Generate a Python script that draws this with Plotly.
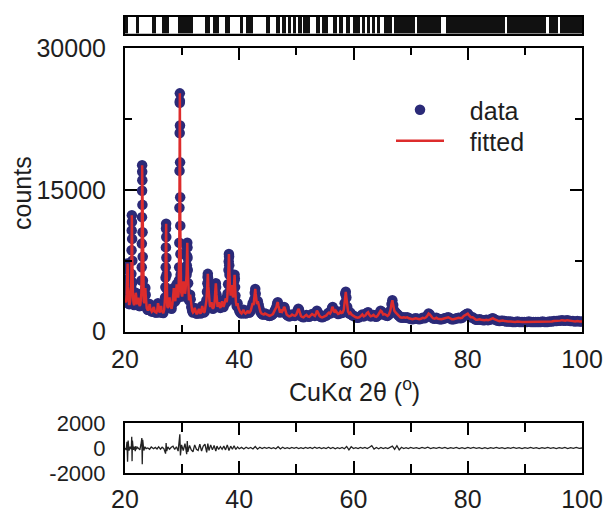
import plotly.graph_objects as go

# ---------------- observed pattern (2theta, counts) ----------------
two_theta = [
    20.00, 20.10, 20.20, 20.30, 20.38, 20.42, 20.45, 20.48, 20.52, 20.60, 20.70, 20.80, 20.90, 21.00,
    21.08, 21.12, 21.15, 21.18, 21.20, 21.22, 21.25, 21.28, 21.32, 21.40, 21.50,
    21.60, 21.70, 21.80, 21.88, 21.95, 22.05, 22.15, 22.25, 22.32, 22.40, 22.50, 22.60, 22.70, 22.80,
    22.86, 22.90, 22.93, 22.95, 22.97, 22.99, 23.00, 23.01, 23.03, 23.05, 23.07, 23.10, 23.14, 23.20, 23.28,
    23.40, 23.50, 23.56, 23.62, 23.70, 23.80, 23.95, 24.10, 24.25, 24.32,
    24.40, 24.55, 24.70, 24.85, 25.00, 25.08, 25.20, 25.35, 25.50, 25.65,
    25.78, 25.85, 25.95, 26.10, 26.25, 26.32, 26.40, 26.55, 26.70, 26.85,
    26.95, 27.02, 27.07, 27.10, 27.13, 27.16, 27.18, 27.20, 27.22, 27.24, 27.27, 27.30, 27.34, 27.40, 27.50,
    27.60, 27.70, 27.80, 27.90, 28.00, 28.15, 28.30, 28.45, 28.55, 28.65, 28.80, 28.95, 29.05, 29.12, 29.20, 29.30, 29.38,
    29.44, 29.48, 29.51, 29.53, 29.55, 29.57, 29.585, 29.60, 29.61, 29.625, 29.64, 29.66, 29.68, 29.70, 29.73, 29.77, 29.82,
    29.90, 30.00, 30.10, 30.18, 30.25, 30.32, 30.40, 30.50, 30.60, 30.70, 30.78,
    30.82, 30.85, 30.88, 30.90, 30.92, 30.95, 30.99, 31.05, 31.12, 31.20,
    31.30, 31.40, 31.50, 31.60, 31.75, 31.90, 32.05, 32.20, 32.35, 32.50, 32.65, 32.80, 32.95, 33.10, 33.25, 33.40, 33.52, 33.65, 33.80, 33.95, 34.10, 34.25,
    34.35, 34.42, 34.47, 34.50, 34.53, 34.58, 34.65, 34.75, 34.85, 34.95, 35.05, 35.15, 35.25, 35.40, 35.55, 35.70,
    35.80, 35.85, 35.90, 35.95, 36.02, 36.10, 36.20, 36.35, 36.45, 36.55, 36.70, 36.85, 37.00, 37.10, 37.25, 37.40, 37.55, 37.65, 37.75, 37.85, 37.95, 38.05, 38.12,
    38.16, 38.19, 38.22, 38.25, 38.29, 38.35, 38.42, 38.50, 38.60, 38.70, 38.80, 38.90, 39.00, 39.08, 39.14, 39.18, 39.22, 39.27, 39.33, 39.42, 39.55, 39.70, 39.85, 40.00,
    40.20, 40.40, 40.60, 40.75, 40.90, 41.10, 41.30, 41.50, 41.65, 41.80,
    42.00, 42.20, 42.35, 42.50, 42.62, 42.72, 42.80, 42.88, 42.98, 43.10,
    43.25, 43.40, 43.55, 43.70, 43.90, 44.10, 44.30, 44.50, 44.70, 44.90,
    45.10, 45.30, 45.50, 45.70, 45.90, 46.10, 46.30, 46.50, 46.65, 46.75,
    46.85, 47.00, 47.15, 47.30, 47.50, 47.70, 47.85, 47.95, 48.10, 48.30,
    48.50, 48.75, 49.00, 49.25, 49.50, 49.75, 50.00, 50.20, 50.35, 50.45,
    50.60, 50.80, 51.00, 51.25, 51.50, 51.75, 52.00, 52.25, 52.50, 52.75,
    53.00, 53.25, 53.45, 53.60, 53.80, 54.00, 54.25, 54.50, 54.75, 55.00,
    55.25, 55.50, 55.70, 55.90, 56.10, 56.25, 56.35, 56.50, 56.70, 56.90,
    57.10, 57.30, 57.50, 57.70, 57.90, 58.10, 58.30, 58.45, 58.55, 58.65,
    58.75, 58.90, 59.05, 59.25, 59.45, 59.65, 59.85,
    60.10, 60.40, 60.70, 61.00, 61.30, 61.55, 61.80, 62.10, 62.35, 62.55,
    62.75, 63.00, 63.25, 63.50, 63.75, 64.00, 64.25, 64.50, 64.75, 64.95,
    65.20, 65.45, 65.70, 65.95, 66.20, 66.45, 66.65, 66.80, 66.95, 67.15,
    67.40, 67.65, 67.90, 68.20, 68.50, 68.80, 69.10, 69.40, 69.70, 70.00,
    70.30, 70.60, 70.90, 71.20, 71.50, 71.80, 72.10, 72.40, 72.70, 72.95,
    73.15, 73.35, 73.60, 73.90, 74.20, 74.50, 74.80, 75.10, 75.40, 75.70,
    76.00, 76.30, 76.60, 76.90, 77.20, 77.50, 77.80, 78.10, 78.40, 78.70,
    79.00, 79.30, 79.55, 79.80, 80.00, 80.25, 80.55, 80.85, 81.15, 81.45,
    81.75, 82.05, 82.35, 82.65, 82.95, 83.25, 83.55, 83.85, 84.15, 84.40,
    84.65, 84.95, 85.25, 85.55, 85.85, 86.15, 86.45, 86.75, 87.10, 87.50,
    87.90, 88.30, 88.70, 89.10, 89.50, 89.90, 90.30, 90.70, 91.10, 91.50,
    91.90, 92.30, 92.70, 93.10, 93.50, 93.90, 94.30, 94.70, 95.10, 95.50,
    95.90, 96.20, 96.50, 96.80, 97.10, 97.40, 97.70, 98.00, 98.40, 98.80,
    99.20, 99.60, 100.00,
]
counts_obs = [
    3300, 3100, 3200, 3900, 5500, 6800, 7200, 6500, 4800, 3500, 2900, 2900, 3200, 4200,
    4700, 6100, 8600, 10700, 12300, 11600, 9800, 7500, 5200, 3600, 3000,
    2800, 3000, 3500, 4100, 3800, 3000, 2900, 3300, 3600, 3000, 2700, 2700, 2900, 3400,
    4000, 5400, 6800, 9300, 12100, 14900, 17600, 16900, 16000, 13400, 10500, 7900, 5400, 4000, 3200,
    3000, 3800, 4600, 3900, 2900, 2500, 2300, 2300, 2700, 2900,
    2500, 2200, 2100, 2200, 2600, 2500, 2100, 2000, 2000, 2300,
    3000, 2800, 2200, 2000, 2500, 2700, 2300, 2000, 1950, 2300,
    2800, 3600, 4700, 5700, 6800, 8900, 10900, 11400, 10000, 7800, 6000, 4500, 3400, 2700, 2500,
    2600, 3100, 3600, 3000, 2500, 2400, 2900, 4000, 4600, 3500, 3200, 4300, 5000, 4600, 3800, 3600, 4000,
    5400, 6800, 9400, 13100, 17000, 21000, 24200, 25200, 24400, 21800, 17900, 14200, 11200, 8200, 6000, 4800, 4200,
    4000, 3700, 4200, 4900, 5300, 4800, 4200, 4000, 4400, 5000, 6000,
    7000, 8000, 8900, 9400, 8900, 7800, 6500, 5100, 3900, 3300,
    3500, 3900, 3400, 2600, 2200, 2000, 2100, 2500, 2200, 1900, 1900, 2100, 2400, 2000, 1900, 2300, 2700, 2300, 2000, 2100, 2600, 3300,
    4200, 5100, 5800, 6100, 5700, 4800, 3800, 3200, 2800, 2600, 3000, 3100, 2600, 2400, 2600, 3200,
    4200, 4800, 5100, 4700, 3900, 3100, 2600, 2900, 3100, 2700, 2500, 2800, 3200, 2900, 2600, 2900, 3400, 3500, 3100, 3300, 4000, 5000, 6500,
    7400, 8200, 7900, 7000, 6000, 5000, 4300, 3800, 4100, 4900, 4200, 3600, 3900, 4700, 5400, 6000, 5600, 4700, 3800, 3100, 2700, 3000, 2500, 2200,
    2000, 1900, 2100, 2300, 2000, 1900, 2000, 2200, 2000, 2000,
    2200, 2600, 3000, 2800, 3400, 4100, 4500, 4000, 3300, 2900,
    3200, 2800, 2400, 2100, 1900, 1800, 1800, 1900, 1850, 1750,
    1700, 1650, 1700, 1750, 1850, 2100, 2300, 2600, 3000, 3100,
    2700, 2200, 2000, 2300, 2100, 2300, 2600, 2500, 2100, 1800,
    1700, 1600, 1650, 1800, 1700, 1650, 1800, 2200, 2400, 2300,
    1900, 1650, 1550, 1500, 1650, 1750, 1600, 1550, 1700, 1850,
    1750, 1650, 1900, 2200, 2000, 1700, 1550, 1500, 1550, 1650,
    1700, 1900, 2000, 1900, 2100, 2500, 2600, 2300, 2000, 2200,
    2000, 1850, 1900, 2100, 1950, 2000, 2300, 3000, 4000, 4200,
    3600, 2600, 2100, 1900, 2000, 1800, 1700,
    1650, 1500, 1450, 1500, 1650, 1800, 1600, 1700, 1950, 2050,
    1800, 1600, 1650, 1750, 1600, 1550, 1700, 1900, 2200, 2100,
    1800, 1850, 1700, 1650, 1800, 2200, 2900, 3300, 2800, 2200,
    2000, 1850, 1700, 1500, 1450, 1500, 1450, 1500, 1400, 1350,
    1300, 1350, 1400, 1350, 1300, 1350, 1450, 1400, 1500, 1700,
    1900, 1800, 1550, 1400, 1350, 1450, 1350, 1300, 1300, 1350,
    1400, 1450, 1500, 1400, 1300, 1300, 1350, 1400, 1450, 1400,
    1450, 1650, 1750, 1850, 1900, 1700, 1500, 1500, 1350, 1250,
    1250, 1300, 1250, 1200, 1200, 1250, 1200, 1250, 1350, 1400,
    1300, 1200, 1150, 1100, 1150, 1150, 1100, 1050, 1050, 1050,
    1000, 1000, 1050, 1000, 1000, 1000, 1000, 1050, 1000, 1000,
    1000, 1000, 1000, 1050, 1000, 1000, 1050, 1050, 1100, 1100,
    1150, 1150, 1200, 1150, 1150, 1200, 1150, 1100, 1100, 1050,
    1100, 1050, 1050,
]
# fitted profile: coincides with the observations within the line width
counts_fit = list(counts_obs)

# ---------------- difference curve (obs - calc) ----------------
res_theta = [
    20.00, 20.20, 20.35, 20.45, 20.55, 20.70, 20.90, 21.10, 21.18, 21.24,
    21.30, 21.45, 21.60, 21.80, 21.90, 22.00, 22.20, 22.40, 22.60, 22.80,
    22.95, 23.02, 23.10, 23.30, 23.50, 23.70, 24.00, 24.30, 24.60, 25.00,
    25.30, 25.60, 25.90, 26.20, 26.50, 26.80, 27.10, 27.20, 27.30, 27.50,
    27.80, 28.10, 28.40, 28.70, 29.00, 29.30, 29.50, 29.60, 29.70, 29.90,
    30.20, 30.50, 30.80, 30.90, 31.00, 31.30, 31.60, 31.90, 32.20, 32.50,
    32.80, 33.10, 33.40, 33.70, 34.00, 34.30, 34.50, 34.70, 35.00, 35.30,
    35.60, 35.90, 36.10, 36.40, 36.70, 37.00, 37.30, 37.60, 37.90, 38.20,
    38.50, 38.80, 39.10, 39.40, 39.70, 40.00, 40.40, 40.80, 41.20, 41.60,
    42.00, 42.40, 42.80, 43.20, 43.60, 44.00, 44.40, 44.80, 45.20, 45.60,
    46.00, 46.40, 46.80, 47.20, 47.60, 48.00, 48.40, 48.80, 49.20, 49.60,
    50.00, 50.40, 50.80, 51.20, 51.60, 52.00, 52.40, 52.80, 53.20, 53.60,
    54.00, 54.40, 54.80, 55.20, 55.60, 56.00, 56.40, 56.80, 57.20, 57.60,
    58.00, 58.40, 58.80, 59.20, 59.60, 60.00, 60.40, 60.80, 61.20, 61.60,
    62.00, 62.40, 62.80, 63.20, 63.60, 64.00, 64.40, 64.80, 65.20, 65.60,
    66.00, 66.40, 66.80, 67.20, 67.60, 68.00, 68.40, 68.80, 69.20, 69.60,
    70.00, 70.50, 71.00, 71.50, 72.00, 72.50, 73.00, 73.50, 74.00, 74.50,
    75.00, 75.50, 76.00, 76.50, 77.00, 77.50, 78.00, 78.50, 79.00, 79.50,
    80.00, 80.50, 81.00, 81.50, 82.00, 82.50, 83.00, 83.50, 84.00, 84.50,
    85.00, 85.50, 86.00, 86.50, 87.00, 87.50, 88.00, 88.50, 89.00, 89.50,
    90.00, 90.50, 91.00, 91.50, 92.00, 92.50, 93.00, 93.50, 94.00, 94.50,
    95.00, 95.50, 96.00, 96.50, 97.00, 97.50, 98.00, 98.50, 99.00, 99.50,
    100.00,
]
res_counts = [
    0, -150, 500, -1100, 600, -200, 100, -100, 900, -1050,
    600, -150, 100, -250, 150, -100, 50, -50, -150, 300,
    800, -1300, 650, -200, 100, -50, 0, -100, 80, -60,
    50, -80, 100, -100, 60, -50, -450, 400, -250, 80,
    -100, 60, 150, -120, 100, -250, 500, 1100, -600, 250,
    -200, 350, -500, 550, -300, 200, -150, -300, 250, -100,
    -200, 300, -250, 150, 300, -350, 350, -200, 250, -150,
    200, -250, 150, -120, 100, -100, 150, -150, 250, -200,
    150, -100, 180, -120, 80, -60, 50, -80, 60, -50,
    40, -80, 120, -90, 60, -40, 50, -30, 40, -50,
    30, -60, 100, -80, 60, -40, 30, -50, 40, -30,
    50, -40, 30, -50, 40, -30, 50, -40, 60, -30,
    40, -50, 30, -40, 60, -50, 40, -60, 30, -40,
    50, -60, 120, -150, 100, -40, 30, -50, 40, -30,
    50, -40, 60, 180, -80, 40, -60, 50, -40, 30,
    -50, 80, 150, -100, 180, -150, 60, -40, 30, -50,
    40, -30, 30, -50, 40, -30, 60, -40, 30, -30,
    40, -30, 50, -40, 30, -30, 40, -50, 30, -40,
    50, -30, 40, -30, 30, -40, 30, -40, 30, -30,
    40, -30, 30, -40, 30, -30, 40, -30, 30, -40,
    30, -30, 40, -30, 30, -40, 30, -30, 40, -30,
    30, -40, 30, -30, 50, -40, 30, -30, 40, -30,
    0,
]

# ---------------- reflection-marker strip: open (white) intervals ----------------
gap_start = [20.55, 22.45, 25.50, 27.75, 31.90, 34.85, 36.45, 38.35, 40.65, 42.40, 45.30,
             47.30, 48.30, 49.20, 50.00, 51.00, 52.30, 54.20, 55.50, 57.20, 58.20, 59.30,
             61.25, 62.15, 63.05, 63.85, 64.75, 65.05, 66.75, 70.85, 75.35, 86.55, 93.65, 95.75]
gap_end = [21.90, 24.80, 26.40, 29.30, 33.95, 35.40, 37.45, 40.05, 41.25, 44.70, 46.50,
           47.45, 48.45, 49.35, 50.20, 51.15, 53.50, 54.35, 56.40, 57.35, 58.70, 59.90,
           61.40, 62.30, 63.20, 64.00, 64.90, 65.20, 66.95, 71.00, 76.20, 86.70, 94.20, 96.20]

x_range = [20, 100]
y_range = [0, 30000]
res_range = [-2000, 2000]
y_ticks = [0, 15000, 30000]
y_ticktext = ["0", "15000", "30000"]
res_ticks = [-2000, 0, 2000]
res_ticktext = ["-2000", "0", "2000"]

FONT = "Liberation Sans, Arial, sans-serif"
TXT = "#1e1e1e"
NAVY = "#2b2a78"
RED = "#dd2c2c"
FS = 25

fig = go.Figure()

fig.add_trace(go.Scatter(
    x=two_theta, y=counts_obs, mode="markers", name="\u00a0\u00a0\u00a0data",
    marker=dict(color=NAVY, size=10.5, line=dict(width=0)),
    legend="legend", xaxis="x", yaxis="y"))
fig.add_trace(go.Scatter(
    x=two_theta, y=counts_fit, mode="lines", name="\u00a0\u00a0\u00a0fitted",
    line=dict(color=RED, width=2.5),
    legend="legend2", xaxis="x", yaxis="y"))
fig.add_trace(go.Scatter(
    x=res_theta, y=res_counts, mode="lines", showlegend=False,
    line=dict(color="#222222", width=1.3),
    xaxis="x2", yaxis="y2"))

centers = [(a + b) / 2 for a, b in zip(gap_start, gap_end)]
widths = [b - a for a, b in zip(gap_start, gap_end)]
fig.add_trace(go.Bar(
    x=centers, y=[1] * len(centers), width=widths, base=0,
    marker=dict(color="white", line=dict(width=0)), showlegend=False,
    xaxis="x3", yaxis="y3"))

W, H = 605, 513
xdom = [125 / W, 582 / W]

tick_common = dict(ticks="inside", tickcolor="black", tickwidth=2, showgrid=False,
                   zeroline=False, showline=True, linecolor="black", linewidth=2,
                   automargin=False,
                   tickfont=dict(family=FONT, size=FS, color=TXT))

legend_common = dict(xanchor="left", yanchor="top", bgcolor="rgba(0,0,0,0)", borderwidth=0,
                     itemwidth=48, font=dict(family=FONT, size=FS, color=TXT))

fig.update_layout(
    template="none",
    width=W, height=H, margin=dict(l=0, r=0, t=0, b=0, pad=0, autoexpand=False),
    paper_bgcolor="white", plot_bgcolor="white",
    font=dict(family=FONT, size=FS, color=TXT),
    bargap=0,
    xaxis=dict(domain=xdom, anchor="y", range=x_range, dtick=20, tick0=20, ticklen=12,
               mirror="ticks", ticklabelstandoff=4,
               minor=dict(ticks="inside", dtick=10, ticklen=7, tickwidth=2, tickcolor="black"),
               **tick_common),
    yaxis=dict(domain=[1 - 331.5 / H, 1 - 48 / H], anchor="x", range=y_range,
               tickvals=y_ticks, ticktext=y_ticktext, ticklen=12, mirror="ticks",
               ticklabelstandoff=12,
               minor=dict(ticks="inside", dtick=7500, ticklen=7, tickwidth=2, tickcolor="black"),
               **tick_common),
    xaxis2=dict(domain=xdom, anchor="y2", range=x_range, dtick=20, tick0=20, ticklen=12,
                mirror="ticks", ticklabelstandoff=3,
                minor=dict(ticks="inside", dtick=10, ticklen=9, tickwidth=2, tickcolor="black"),
                **tick_common),
    yaxis2=dict(domain=[1 - 473 / H, 1 - 423 / H], anchor="x2", range=res_range,
                tickvals=res_ticks, ticktext=res_ticktext, ticks="", showgrid=False,
                zeroline=False, showline=True, linecolor="black", linewidth=2, mirror=True,
                automargin=False, ticklabelstandoff=13,
                tickfont=dict(family=FONT, size=22, color=TXT)),
    xaxis3=dict(domain=xdom, anchor="y3", range=x_range, showticklabels=False, ticks="",
                showgrid=False, zeroline=False, showline=True, linecolor="black",
                linewidth=1.5, mirror=True, automargin=False),
    yaxis3=dict(domain=[1 - 33.5 / H, 1 - 17 / H], anchor="x3", range=[0, 1],
                showticklabels=False, ticks="", showgrid=False, zeroline=False,
                showline=True, linecolor="black", linewidth=1.5, mirror=True,
                automargin=False),
    shapes=[dict(type="rect", xref="x3 domain", yref="y3 domain", x0=0, x1=1, y0=0, y1=1,
                 fillcolor="#111111", line=dict(width=0), layer="below")],
    legend=dict(x=391 / W, y=1 - 87 / H, **legend_common),
    legend2=dict(x=391 / W, y=1 - 118 / H, **legend_common),
    annotations=[
        dict(text="counts", xref="paper", yref="paper", x=22 / W, y=1 - 193 / H,
             textangle=-90, showarrow=False, font=dict(family=FONT, size=FS, color=TXT),
             xanchor="center", yanchor="middle"),
        dict(text="CuK\u03b1 2\u03b8 (<sup>o</sup>)", xref="paper", yref="paper",
             x=354 / W, y=1 - 390 / H, showarrow=False,
             font=dict(family=FONT, size=FS, color=TXT), xanchor="center", yanchor="middle"),
    ],
)

fig.write_html("out.html")
